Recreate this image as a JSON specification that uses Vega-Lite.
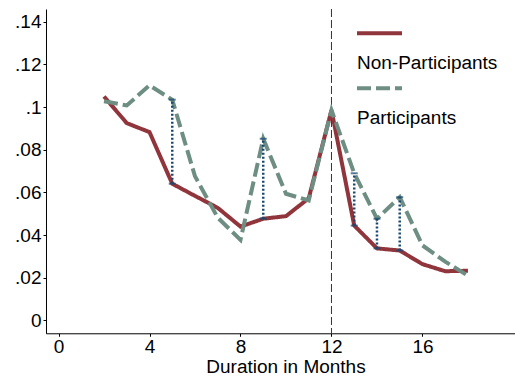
{
  "$schema": "https://vega.github.io/schema/vega-lite/v6.json",
  "width": 468.6,
  "height": 324.3,
  "autosize": {"type": "none"},
  "padding": {"left": 46, "top": 9, "right": 0, "bottom": 47},
  "background": "white",
  "config": {
    "font": "Liberation Sans",
    "view": {"stroke": null},
    "axis": {
      "grid": false,
      "domainColor": "black",
      "domainWidth": 1,
      "tickColor": "black",
      "tickSize": 3,
      "labelFontSize": 19,
      "labelColor": "black",
      "titleFontSize": 19,
      "titleFontWeight": "normal",
      "titleColor": "black"
    }
  },
  "datasets": {
    "series": [
      {"month": 2, "group": "Non-Participants", "value": 0.105},
      {"month": 3, "group": "Non-Participants", "value": 0.0925},
      {"month": 4, "group": "Non-Participants", "value": 0.0883},
      {"month": 5, "group": "Non-Participants", "value": 0.0641},
      {"month": 6, "group": "Non-Participants", "value": 0.0584},
      {"month": 7, "group": "Non-Participants", "value": 0.0528},
      {"month": 8, "group": "Non-Participants", "value": 0.044},
      {"month": 9, "group": "Non-Participants", "value": 0.0477},
      {"month": 10, "group": "Non-Participants", "value": 0.0489},
      {"month": 11, "group": "Non-Participants", "value": 0.0573},
      {"month": 12, "group": "Non-Participants", "value": 0.0986},
      {"month": 13, "group": "Non-Participants", "value": 0.0445},
      {"month": 14, "group": "Non-Participants", "value": 0.0338},
      {"month": 15, "group": "Non-Participants", "value": 0.0328},
      {"month": 16, "group": "Non-Participants", "value": 0.0264},
      {"month": 17, "group": "Non-Participants", "value": 0.0231},
      {"month": 18, "group": "Non-Participants", "value": 0.0233},
      {"month": 2, "group": "Participants", "value": 0.1028},
      {"month": 3, "group": "Participants", "value": 0.1008},
      {"month": 4, "group": "Participants", "value": 0.1102},
      {"month": 5, "group": "Participants", "value": 0.1035},
      {"month": 6, "group": "Participants", "value": 0.0676},
      {"month": 7, "group": "Participants", "value": 0.0482},
      {"month": 8, "group": "Participants", "value": 0.0378},
      {"month": 9, "group": "Participants", "value": 0.0852},
      {"month": 10, "group": "Participants", "value": 0.0594},
      {"month": 11, "group": "Participants", "value": 0.0563},
      {"month": 12, "group": "Participants", "value": 0.0986},
      {"month": 13, "group": "Participants", "value": 0.069},
      {"month": 14, "group": "Participants", "value": 0.0477},
      {"month": 15, "group": "Participants", "value": 0.0578},
      {"month": 16, "group": "Participants", "value": 0.0352},
      {"month": 17, "group": "Participants", "value": 0.0276},
      {"month": 18, "group": "Participants", "value": 0.021}
    ],
    "gaps": [
      {"month": 5, "lo": 0.0641, "hi": 0.1035},
      {"month": 9, "lo": 0.0477, "hi": 0.0852},
      {"month": 13, "lo": 0.0445, "hi": 0.069},
      {"month": 14, "lo": 0.0338, "hi": 0.0477},
      {"month": 15, "lo": 0.0328, "hi": 0.0578}
    ],
    "cutoff": [{"month": 12}]
  },
  "layer": [
    {
      "data": {"name": "cutoff"},
      "mark": {"type": "rule", "color": "#333333", "strokeWidth": 1, "strokeDash": [8, 3]},
      "encoding": {
        "x": {"field": "month", "type": "quantitative", "scale": {"domain": [-0.55, 20.05], "nice": false, "zero": false}}
      }
    },
    {
      "data": {"name": "series"},
      "mark": {"type": "line", "strokeWidth": 4, "strokeCap": "butt", "strokeJoin": "miter"},
      "encoding": {
        "x": {
          "field": "month", "type": "quantitative",
          "scale": {"domain": [-0.55, 20.05], "nice": false, "zero": false},
          "axis": {"values": [0, 4, 8, 12, 16], "title": "Duration in Months", "labelPadding": 1, "titlePadding": 1, "titleX": 239.5}
        },
        "y": {
          "field": "value", "type": "quantitative",
          "scale": {"domain": [-0.006, 0.146], "nice": false, "zero": false},
          "axis": {
            "values": [0, 0.02, 0.04, 0.06, 0.08, 0.1, 0.12, 0.14],
            "title": null,
            "labelPadding": 2,
            "labelExpr": "datum.value == 0 ? '0' : substring(format(datum.value, '.2~f'), 1)"
          }
        },
        "color": {
          "field": "group", "type": "nominal",
          "scale": {"domain": ["Non-Participants", "Participants"], "range": ["#90353b", "#6e8e84"]},
          "legend": {
            "title": null,
            "orient": "none",
            "legendX": 309,
            "legendY": 9.8,
            "symbolType": "stroke",
            "symbolSize": 2025,
            "symbolStrokeWidth": 4,
            "labelFontSize": 19,
            "labelColor": "black",
            "labelOffset": -47,
            "labelLimit": 300,
            "rowPadding": 0,
            "padding": 0,
            "encode": {
              "symbols": {"update": {"y": {"value": 14.5}}},
              "labels": {"update": {"dy": {"value": 20}}}
            }
          }
        },
        "strokeDash": {
          "field": "group", "type": "nominal",
          "scale": {"domain": ["Non-Participants", "Participants"], "range": [[1, 0], [14, 5]]},
          "legend": null
        }
      }
    },
    {
      "data": {"name": "gaps"},
      "mark": {"type": "rule", "color": "#1a476f", "strokeWidth": 2.5, "strokeDash": [2, 2]},
      "encoding": {
        "x": {"field": "month", "type": "quantitative"},
        "y": {"field": "lo", "type": "quantitative"},
        "y2": {"field": "hi"}
      }
    },
    {
      "data": {"name": "gaps"},
      "mark": {"type": "tick", "orient": "horizontal", "color": "#1a476f", "size": 7, "thickness": 2},
      "encoding": {
        "x": {"field": "month", "type": "quantitative"},
        "y": {"field": "lo", "type": "quantitative"}
      }
    },
    {
      "data": {"name": "gaps"},
      "mark": {"type": "tick", "orient": "horizontal", "color": "#1a476f", "size": 7, "thickness": 2},
      "encoding": {
        "x": {"field": "month", "type": "quantitative"},
        "y": {"field": "hi", "type": "quantitative"}
      }
    }
  ]
}
